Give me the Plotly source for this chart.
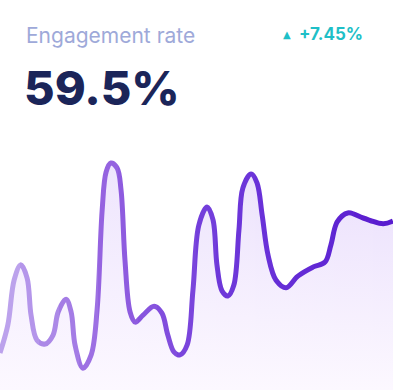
import plotly.graph_objects as go

# ---- data ----
t_values = [0.0, 2.0, 3.6, 5.3, 6.9, 7.9, 9.4, 11.5, 13.5, 14.8, 16.8, 18.1, 19.1, 21.1,
            23.2, 24.7, 26.0, 27.0, 28.2, 29.8, 30.8, 31.8, 33.1, 34.4, 36.4, 39.2,
            41.2, 42.7, 44.3, 45.8, 47.6, 49.1, 50.6, 52.7, 54.2, 55.2, 56.5, 58.0,
            59.5, 60.8, 61.8, 63.9, 65.4, 66.7, 68.2, 70.2, 72.8, 75.8, 79.6, 82.7,
            84.2, 85.8, 88.5, 92.4, 97.5, 100.0]
rate_values = [9.5, 16.7, 28.2, 32.1, 28.7, 19.2, 12.8, 11.8, 14.1, 20.0, 23.3, 20.0, 11.5, 5.6,
               9.0, 20.5, 46.2, 55.9, 58.2, 56.9, 51.3, 33.3, 20.0, 17.4, 19.2, 21.5,
               19.7, 14.1, 9.7, 9.0, 11.5, 25.6, 42.3, 46.9, 43.6, 32.1, 25.4, 24.1,
               26.9, 41.0, 51.8, 55.4, 53.1, 44.9, 34.6, 28.2, 26.2, 29.2, 31.5, 32.8,
               37.2, 43.1, 45.4, 44.1, 42.6, 43.3]

title_text = "Engagement rate"
value_text = "59.5%"
delta_text = "+7.45%"

# ---- styling ----
W, H = 393, 390
N_SLICES = 20
line_stops = [(0.0, (192, 168, 237)), (0.28, (148, 98, 224)), (0.55, (112, 58, 218)),
              (0.75, (100, 44, 214)), (1.0, (88, 26, 206))]
fill_top_stops = [(0.0, (240, 232, 253)), (1.0, (233, 222, 252))]
fill_bottom = "rgb(252,248,255)"


def interp(stops, f):
    for (f0, c0), (f1, c1) in zip(stops[:-1], stops[1:]):
        if f0 <= f <= f1:
            r = (f - f0) / (f1 - f0) if f1 > f0 else 0
            return "rgb(%d,%d,%d)" % tuple(round(a + (b - a) * r) for a, b in zip(c0, c1))
    return "rgb(%d,%d,%d)" % stops[-1][1]


fig = go.Figure()
t0, t1 = t_values[0], t_values[-1]
bounds_px = [round(i * W / N_SLICES) for i in range(N_SLICES + 1)]
layout_axes = {}
for i in range(N_SLICES):
    a, b = bounds_px[i], bounds_px[i + 1]
    f_mid = (a + b) / 2 / W
    xa = "x" if i == 0 else "x%d" % (i + 1)
    ya = "y" if i == 0 else "y%d" % (i + 1)
    fig.add_trace(go.Scatter(
        x=t_values, y=rate_values, xaxis=xa, yaxis=ya,
        mode="lines", line=dict(shape="spline", smoothing=1.0, width=5,
                                color=interp(line_stops, f_mid)),
        fill="tozeroy",
        fillgradient=dict(type="vertical", start=0, stop=58,
                          colorscale=[[0, fill_bottom], [1, interp(fill_top_stops, f_mid)]]),
        hoverinfo="skip", showlegend=False,
    ))
    xkey = "xaxis" if i == 0 else "xaxis%d" % (i + 1)
    ykey = "yaxis" if i == 0 else "yaxis%d" % (i + 1)
    layout_axes[xkey] = dict(domain=[a / W, b / W],
                             range=[t0 + (t1 - t0) * a / W, t0 + (t1 - t0) * b / W],
                             visible=False, fixedrange=True, anchor=ya)
    layout_axes[ykey] = dict(domain=[0, 1], range=[0, 100], visible=False,
                             fixedrange=True, anchor=xa)

fig.update_layout(**layout_axes)

fig.update_layout(
    width=W, height=H,
    margin=dict(l=0, r=0, t=0, b=0),
    paper_bgcolor="white", plot_bgcolor="rgba(0,0,0,0)",
    showlegend=False,
    annotations=[
        dict(text=title_text, x=24 / W, y=1 - 35 / H, xref="paper", yref="paper",
             xanchor="left", yanchor="middle", showarrow=False,
             font=dict(family="Inter", size=21, color="#9ea9d9")),
        dict(text=value_text, x=22 / W, y=1 - 88 / H, xref="paper", yref="paper",
             xanchor="left", yanchor="middle", showarrow=False,
             font=dict(family="Inter", size=47, weight=800, color="#1b2559")),
        dict(text=delta_text, x=365 / W, y=1 - 34 / H, xref="paper", yref="paper",
             xanchor="right", yanchor="middle", showarrow=False,
             font=dict(family="Inter", size=17, weight=700, color="#1ebfc7")),
        dict(text="▲", x=287 / W, y=1 - 34 / H, xref="paper", yref="paper",
             xanchor="center", yanchor="middle", showarrow=False,
             font=dict(family="DejaVu Sans", size=10, color="#1ebfc7")),
    ],
)

fig.write_html("out.html", config={"displayModeBar": False},
               post_script="document.body.style.margin='0';document.body.style.padding='0';")
